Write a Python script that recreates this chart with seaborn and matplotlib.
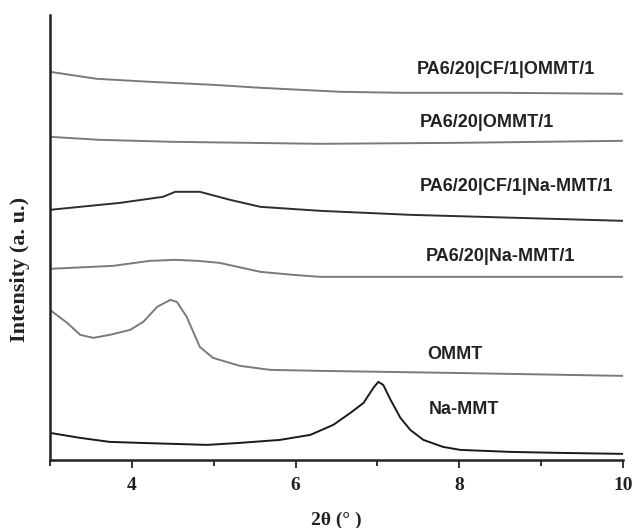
import matplotlib
matplotlib.use("Agg")
import matplotlib.pyplot as plt
import seaborn as sns
import pandas as pd
import numpy as np
from matplotlib.ticker import MultipleLocator

sns.set_style("ticks")
plt.rcParams['font.family'] = ['Liberation Sans', 'DejaVu Sans']

# 2-theta (deg) and intensity (a.u.), top curve first
x_cf_ommt = [3.0, 3.57, 4.22, 4.99, 5.57, 6.30, 6.55, 7.28, 8.50, 10.0]
y_cf_ommt = [388, 381, 378, 375, 372, 369, 368, 367, 367, 366]

x_ommt1 = [3.0, 3.6, 4.5, 6.3, 8.0, 10.0]
y_ommt1 = [323, 320, 318, 316, 317, 319]

x_cf_na = [3.0, 3.86, 4.38, 4.53, 4.83, 5.2, 5.57, 6.3, 7.4, 10.0]
y_cf_na = [250, 257, 263, 268, 268, 260, 253, 249, 245, 239]

x_na1 = [3.0, 3.77, 4.22, 4.53, 4.8, 5.07, 5.57, 5.97, 6.3, 8.0, 10.0]
y_na1 = [191, 194, 199, 200, 199, 197, 188, 185, 183, 183, 183]

x_ommt = [3.0, 3.21, 3.37, 3.53, 3.73, 3.98, 4.14, 4.31, 4.47, 4.55, 4.67,
          4.83, 4.99, 5.32, 5.69, 6.30, 7.89, 10.0]
y_ommt = [150, 137, 125, 122, 125, 130, 138, 153, 160, 158, 143,
          113, 102, 94, 90, 89, 87, 84]

x_namt = [3.0, 3.37, 3.73, 4.10, 4.92, 5.32, 5.81, 6.18, 6.46, 6.67, 6.83,
          6.95, 7.01, 7.07, 7.16, 7.28, 7.40, 7.56, 7.80, 8.01, 8.62, 9.23, 10.0]
y_namt = [27, 22, 18, 17, 15, 17, 20, 25, 35, 47, 57,
          72, 78, 75, 60, 42, 30, 20, 13, 10, 8, 7, 6]

labels = ['PA6/20|CF/1|OMMT/1', 'PA6/20|OMMT/1', 'PA6/20|CF/1|Na-MMT/1',
          'PA6/20|Na-MMT/1', 'OMMT', 'Na-MMT']
curves = [(x_cf_ommt, y_cf_ommt), (x_ommt1, y_ommt1), (x_cf_na, y_cf_na),
          (x_na1, y_na1), (x_ommt, y_ommt), (x_namt, y_namt)]
colors = ['#7a7a7a', '#7a7a7a', '#2e2e2e', '#7a7a7a', '#7a7a7a', '#1a1a1a']
label_pos = [(8.57, 390), (8.33, 337), (8.70, 273), (8.50, 203), (7.95, 105), (8.06, 50)]

fig = plt.figure(figsize=(6.32, 5.28), dpi=100)
ax = fig.add_axes([0.079, 0.129, 0.907, 0.843])

for (xs, ys), c in zip(curves, colors):
    sns.lineplot(x=xs, y=ys, ax=ax, color=c, linewidth=1.4, estimator=None, sort=False)

for lab, (lx, ly) in zip(labels, label_pos):
    ax.text(lx, ly, lab, ha='center', va='center', fontsize=13,
            fontweight='bold', color='#222222')

ax.set_xlim(3, 10)
ax.set_ylim(0, 445)
ax.set_yticks([])
ax.xaxis.set_minor_locator(MultipleLocator(1))
ax.set_xticks([4, 6, 8, 10])
ax.tick_params(axis='x', which='major', length=6, width=1.3, colors='#222222', pad=6)
ax.tick_params(axis='x', which='minor', length=4, width=1.3, colors='#222222')
for lbl in ax.get_xticklabels():
    lbl.set_fontfamily('Liberation Serif')
    lbl.set_fontweight('bold')
    lbl.set_fontsize(14)
    lbl.set_color('#222222')

sns.despine(ax=ax)
for s in ['left', 'bottom']:
    ax.spines[s].set_linewidth(1.8)
    ax.spines[s].set_color('#222222')

ax.set_xlabel('2θ (° )', fontfamily='Liberation Serif', fontweight='bold',
              fontsize=14, color='#222222', va='center')
ax.set_ylabel('Intensity (a. u.)', fontfamily='Liberation Serif', fontweight='bold',
              fontsize=16, color='#222222', va='center')
ax.xaxis.set_label_coords(0.5, -0.135)
ax.yaxis.set_label_coords(-0.052, 0.427)

plt.savefig('out.png', dpi=100)
